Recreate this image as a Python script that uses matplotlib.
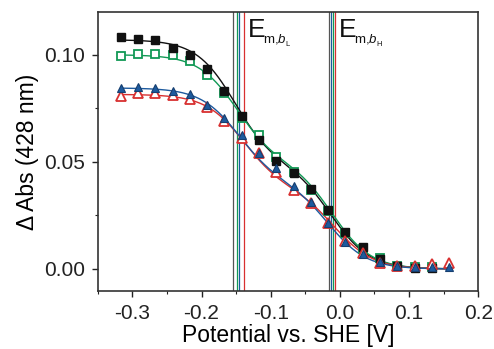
import numpy as np
import matplotlib
matplotlib.use('Agg')
import matplotlib.pyplot as plt
from matplotlib.ticker import MultipleLocator

plt.rcParams['font.family'] = ['Liberation Sans', 'DejaVu Sans']
plt.rcParams['mathtext.fontset'] = 'custom'
plt.rcParams['mathtext.rm'] = 'Liberation Sans'
plt.rcParams['mathtext.it'] = 'Liberation Sans:italic'

# potentials (V vs SHE)
potential = [-0.317, -0.292, -0.267, -0.242, -0.217, -0.192, -0.167, -0.142, -0.117, -0.092,
             -0.067, -0.042, -0.017, 0.008, 0.033, 0.058, 0.083, 0.108, 0.133, 0.158]

# delta Abs at 428 nm
black_sq = [0.1084, 0.1073, 0.1067, 0.1031, 0.0998, 0.0933, 0.0829, 0.0712, 0.0603, 0.0506,
            0.0447, 0.0374, 0.0276, 0.0174, 0.0101, 0.0047, 0.0014, 0.0003, 0.0005]
green_sq = [0.0995, 0.1003, 0.1003, 0.0997, 0.0969, 0.0905, 0.0821, 0.0705, 0.0626, 0.0522,
            0.0455, 0.0370, 0.0270, 0.0170, 0.0095, 0.0050, 0.0015, 0.0010, 0.0008]
red_tri = [0.0808, 0.0820, 0.0820, 0.0810, 0.0793, 0.0755, 0.0693, 0.0610, 0.0542, 0.0455,
           0.0369, 0.0310, 0.0216, 0.0130, 0.0075, 0.0030, 0.0012, 0.0015, 0.0025, 0.0027]
blue_tri = [0.0844, 0.0849, 0.0847, 0.0829, 0.0816, 0.0766, 0.0707, 0.0626, 0.0540, 0.0470,
            0.0385, 0.0313, 0.0216, 0.0128, 0.0070, 0.0033, 0.0012, 0.0008, 0.0010, 0.0010]

# two-step Nernst fit parameters: (amp low, amp high, Em low, Em high)
fit_black = (0.058, 0.049, -0.152, -0.012)
fit_green = (0.050, 0.050, -0.149, -0.010)
fit_red = (0.0435, 0.038, -0.139, -0.007)
fit_blue = (0.0435, 0.041, -0.146, -0.016)

# midpoint potential marker lines
em_low = {'#555555': -0.155, '#119955': -0.149, '#1d5a9e': -0.146, '#d83030': -0.139}
em_high = {'#555555': -0.016, '#1d5a9e': -0.013, '#119955': -0.010, '#d83030': -0.007}

BLACK = '#111111'
GREEN = '#119955'
RED = '#d83030'
BLUE = '#1d5a9e'


def nernst(E, aL, aH, emL, emH, s=0.028):
    return aL / (1 + np.exp((E - emL) / s)) + aH / (1 + np.exp((E - emH) / s))


fig = plt.figure(figsize=(4.94, 3.49), dpi=100)
ax = fig.add_axes([0.198, 0.166, 0.770, 0.800])

for col, x in em_low.items():
    ax.axvline(x, color=col, lw=0.9, zorder=1)
for col, x in em_high.items():
    ax.axvline(x, color=col, lw=0.9, zorder=1)

E = np.linspace(-0.317, 0.158, 300)
ax.plot(E, nernst(E, *fit_black), color=BLACK, lw=1.0, zorder=2)
ax.plot(E, nernst(E, *fit_green), color=GREEN, lw=1.0, zorder=2)
ax.plot(E, nernst(E, *fit_red), color=RED, lw=1.0, zorder=2)
ax.plot(E, nernst(E, *fit_blue), color=BLUE, lw=1.0, zorder=2)

x = np.array(potential)
ax.plot(x[:len(green_sq)], green_sq, 's', ms=5.5, mfc='white', mec=GREEN, mew=1.3, zorder=3)
ax.plot(x[:len(black_sq)], black_sq, 's', ms=5.5, mfc=BLACK, mec=BLACK, mew=1.0, zorder=4)
ax.plot(x, red_tri, '^', ms=6.5, mfc='white', mec=RED, mew=1.3, zorder=5)
ax.plot(x, blue_tri, '^', ms=6.0, mfc=BLUE, mec='#163f70', mew=0.8, zorder=6)

# E_m,b labels: big E, smaller "m,b", tiny L/H
ax.text(-0.1329, 0.1084, 'E', fontsize=19, color='#111111')
ax.text(-0.1112, 0.1056, r'm,$\mathit{b}$', fontsize=9.5, color='#111111')
ax.text(-0.0785, 0.1040, 'L', fontsize=5.5, color='#111111')
ax.text(-0.0012, 0.1084, 'E', fontsize=19, color='#111111')
ax.text(0.0205, 0.1056, r'm,$\mathit{b}$', fontsize=9.5, color='#111111')
ax.text(0.0532, 0.1040, 'H', fontsize=5.5, color='#111111')

ax.set_xlim(-0.35, 0.2)
ax.set_ylim(-0.0103, 0.120)
ax.xaxis.set_major_locator(MultipleLocator(0.1))
ax.xaxis.set_minor_locator(MultipleLocator(0.05))
ax.yaxis.set_major_locator(MultipleLocator(0.05))
ax.yaxis.set_minor_locator(MultipleLocator(0.025))
ax.xaxis.set_major_formatter(plt.FuncFormatter(lambda v, p: '%.1f' % v))
ax.yaxis.set_major_formatter(plt.FuncFormatter(lambda v, p: '%.2f' % v))
ax.tick_params(which='major', direction='out', length=4, width=1.0, labelsize=15, colors='#222222', pad=5)
ax.tick_params(which='minor', direction='out', length=2.5, width=0.8, colors='#222222')
for sp in ax.spines.values():
    sp.set_linewidth(1.2)
    sp.set_color('#333333')

ax.set_xlabel('Potential vs. SHE [V]', fontsize=16.5, labelpad=1)
ax.set_ylabel('Δ Abs (428 nm)', fontsize=16.5, labelpad=4)

fig.savefig('out.png', dpi=100)
